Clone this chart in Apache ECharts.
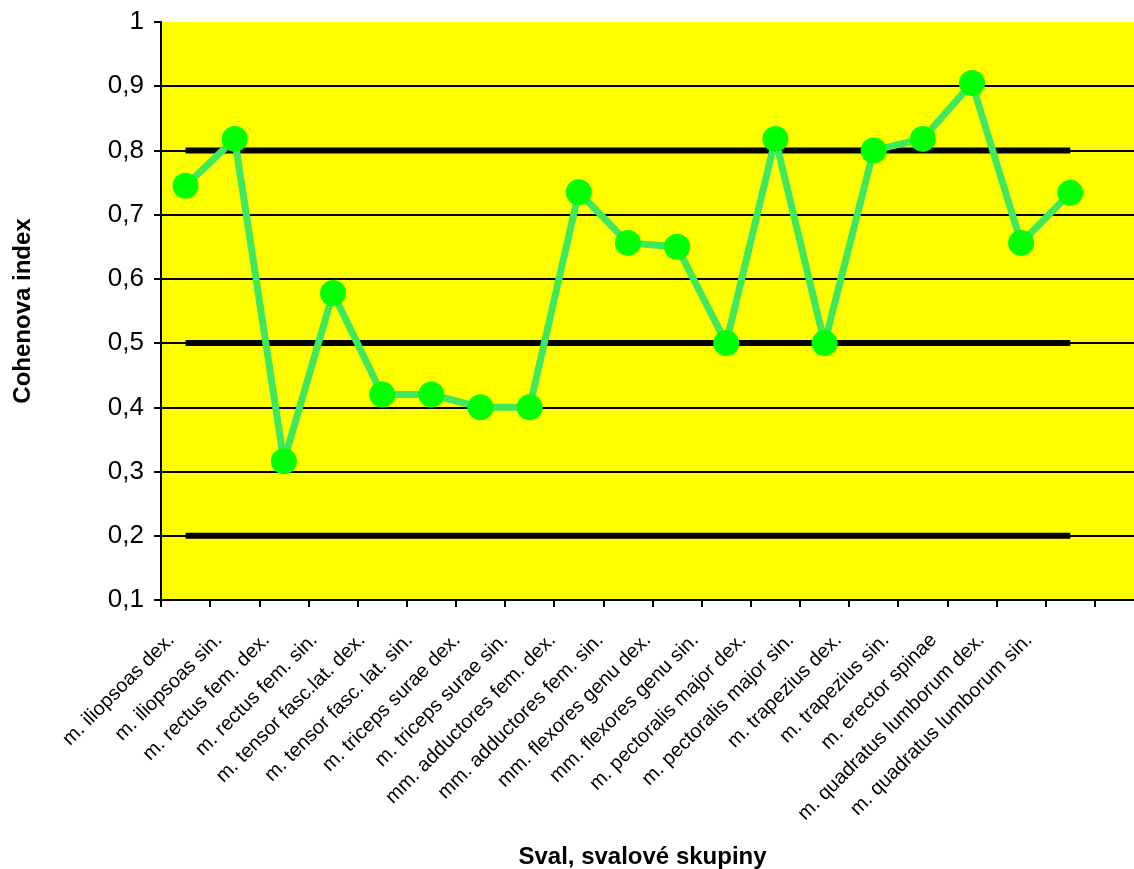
<!DOCTYPE html>
<html>
<head>
<meta charset="utf-8">
<script src="https://cdn.jsdelivr.net/npm/echarts@6/dist/echarts.min.js"></script>
<style>html,body{margin:0;padding:0;background:#fff;}#c{width:1134px;height:869px;}</style>
</head>
<body>
<div id="c"></div>
<script>
const categories = ["m. iliopsoas dex.","m. iliopsoas sin.","m. rectus fem. dex.","m. rectus fem. sin.","m. tensor fasc.lat. dex.","m. tensor fasc. lat. sin.","m. triceps surae dex.","m. triceps surae sin.","mm. adductores fem. dex.","mm. adductores fem. sin.","mm. flexores genu dex.","mm. flexores genu sin.","m. pectoralis major dex.","m. pectoralis major sin.","m. trapezius dex.","m. trapezius sin.","m. erector spinae","m. quadratus lumborum dex.","m. quadratus lumborum sin.",""];
const cohen = [0.745,0.818,0.316,0.578,0.42,0.42,0.40,0.40,0.735,0.656,0.65,0.50,0.818,0.50,0.80,0.818,0.905,0.656,0.734];
const level08 = [0.8,0.8,0.8,0.8,0.8,0.8,0.8,0.8,0.8,0.8,0.8,0.8,0.8,0.8,0.8,0.8,0.8,0.8,0.8];
const level05 = [0.5,0.5,0.5,0.5,0.5,0.5,0.5,0.5,0.5,0.5,0.5,0.5,0.5,0.5,0.5,0.5,0.5,0.5,0.5];
const level02 = [0.2,0.2,0.2,0.2,0.2,0.2,0.2,0.2,0.2,0.2,0.2,0.2,0.2,0.2,0.2,0.2,0.2,0.2,0.2];
const gridValues = [0.2,0.3,0.4,0.5,0.6,0.7,0.8,0.9];
const yMin = 0.1, yMax = 1, yStep = 0.1;

const chart = echarts.init(document.getElementById('c'));
const font = 'Liberation Sans, Arial, sans-serif';
function levelSeries(d){
  return {type:'line', data:d, symbol:'none', silent:true, z:3,
    lineStyle:{color:'#000', width:6}};
}
const gridSeries = levelSeries(level02);
gridSeries.markLine = {
  silent:true, symbol:'none', label:{show:false}, animation:false,
  lineStyle:{color:'#000', width:2, type:'solid'},
  data: gridValues.map(v=>({yAxis:v}))
};
chart.setOption({
  animation:false,
  backgroundColor:'#fff',
  grid:[
    {left:161, top:22, width:983, height:578, show:true, backgroundColor:'#ffff00', borderWidth:0, containLabel:false, outerBoundsMode:'none'},
    {left:147.5, top:22, width:953, height:578, show:false, containLabel:false, outerBoundsMode:'none'}
  ],
  xAxis:[{
    type:'category', data:categories, boundaryGap:true, gridIndex:0,
    name:'Sval, svalové skupiny', nameLocation:'middle', nameGap:245,
    nameTextStyle:{fontFamily:font, fontSize:24, fontWeight:'bold', color:'#000', padding:[0,20,0,0]},
    axisLine:{lineStyle:{color:'#000', width:2}},
    axisTick:{show:true, interval:0, alignWithLabel:false, length:7, lineStyle:{color:'#000', width:2}},
    axisLabel:{show:false, interval:0},
    splitLine:{show:false}
  },{
    type:'category', data:categories, boundaryGap:true, gridIndex:1,
    axisLine:{show:false}, axisTick:{show:false}, splitLine:{show:false},
    axisLabel:{rotate:45, interval:0, fontFamily:font, fontSize:20, color:'#000', margin:37}
  }],
  yAxis:[{
    type:'value', min:yMin, max:yMax, interval:yStep, gridIndex:0,
    name:'Cohenova index', nameLocation:'middle', nameGap:126, nameRotate:90,
    nameTextStyle:{fontFamily:font, fontSize:24, fontWeight:'bold', color:'#000'},
    axisLine:{show:true, lineStyle:{color:'#000', width:2}},
    axisTick:{show:true, length:7, lineStyle:{color:'#000', width:2}},
    axisLabel:{fontFamily:font, fontSize:26, color:'#000', margin:17,
      formatter:v=>String(Math.round(v*10)/10).replace('.',',')},
    splitLine:{show:false}
  },{
    type:'value', min:yMin, max:yMax, gridIndex:1, show:false
  }],
  series:[
    levelSeries(level08), levelSeries(level05), gridSeries,
    {type:'line', data:cohen, z:5, symbol:'circle', symbolSize:26,
      itemStyle:{color:'#00ff00'},
      lineStyle:{color:'#3fe85c', width:7}}
  ]
});
</script>
</body>
</html>
